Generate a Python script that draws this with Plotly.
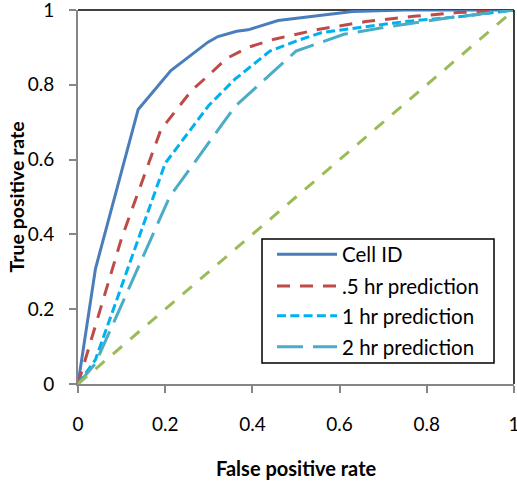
import plotly.graph_objects as go

# ROC curves: false positive rate vs true positive rate
cell_fpr = [0, 0.04, 0.138, 0.213, 0.298, 0.321, 0.364, 0.39, 0.459, 0.63, 0.75, 1.0]
cell_tpr = [0, 0.308, 0.734, 0.838, 0.914, 0.929, 0.943, 0.947, 0.972, 0.996, 1.0, 1.0]

half_fpr = [0, 0.1, 0.19, 0.26, 0.30, 0.34, 0.39, 0.45, 0.55, 0.66, 0.77, 0.87, 1.0]
half_tpr = [0, 0.39, 0.68, 0.784, 0.826, 0.87, 0.9, 0.922, 0.948, 0.969, 0.983, 0.993, 1.0]

one_fpr = [0, 0.04, 0.2, 0.3, 0.36, 0.44, 0.5, 0.56, 0.62, 0.75, 0.89, 1.0]
one_tpr = [0, 0.065, 0.59, 0.745, 0.815, 0.89, 0.917, 0.94, 0.949, 0.969, 0.984, 1.0]

two_fpr = [0, 0.04, 0.21, 0.36, 0.5, 0.61, 0.72, 0.85, 1.0]
two_tpr = [0, 0.055, 0.5, 0.742, 0.89, 0.935, 0.957, 0.979, 1.0]

chance_fpr = [0, 1]
chance_tpr = [0, 1]

series_names = ["Cell ID", ".5 hr prediction", "1 hr prediction", "2 hr prediction"]
series_colors = ["#4A7EBB", "#BE4B48", "#00B0F0", "#4BACC6"]
series_dashes = ["solid", "13px,10px", "9px,4.3px", "26px,10px"]
chance_color = "#9BBB59"

tick_vals = [0, 0.2, 0.4, 0.6, 0.8, 1.0]
tick_text = ["0", "0.2", "0.4", "0.6", "0.8", "1"]

W, H = 517, 481
ML, MR, MT, MB = 78, 3, 10, 97
PW, PH = W - ML - MR, H - MT - MB

FONT = "Lato, 'Open Sans', sans-serif"


def px_x(p):
    return (p - ML) / PW


def px_y(p):
    return (H - MB - p) / PH


fig = go.Figure()
curves = [(cell_fpr, cell_tpr), (half_fpr, half_tpr), (one_fpr, one_tpr), (two_fpr, two_tpr)]
for (fx, ty), name, col, dash in zip(curves, series_names, series_colors, series_dashes):
    fig.add_trace(go.Scatter(x=fx, y=ty, mode="lines", name=name,
                             line=dict(color=col, width=3, dash=dash),
                             showlegend=False, hoverinfo="skip"))
fig.add_trace(go.Scatter(x=chance_fpr, y=chance_tpr, mode="lines",
                         line=dict(color=chance_color, width=3, dash="12px,11px"),
                         showlegend=False, hoverinfo="skip"))

axis_common = dict(
    range=[0, 1], tickvals=tick_vals, ticktext=tick_text,
    ticks="outside", ticklen=7, tickwidth=1.5, tickcolor="#868686",
    showline=True, linecolor="#868686", linewidth=2,
    showgrid=False, zeroline=False,
    tickfont=dict(family=FONT, size=19, color="black"),
    ticklabeloverflow="allow", automargin=False,
    fixedrange=True,
)

shapes = [
    # top and right edges of the plot frame
    dict(type="line", xref="paper", yref="paper", x0=0, x1=1, y0=1, y1=1,
         line=dict(color="black", width=1.5), layer="below"),
    dict(type="line", xref="paper", yref="paper", x0=1, x1=1, y0=0, y1=1,
         line=dict(color="black", width=1.5), layer="above"),
    # legend box
    dict(type="rect", xref="paper", yref="paper",
         x0=px_x(262), x1=px_x(494), y0=px_y(363), y1=px_y(239),
         line=dict(color="black", width=1.5), fillcolor="white", layer="above"),
]
annotations = []
row_y = [254.3, 286, 315.7, 346.7]
for name, col, dash, ry in zip(series_names, series_colors, series_dashes, row_y):
    shapes.append(dict(type="line", xref="paper", yref="paper",
                       x0=px_x(277), x1=px_x(337), y0=px_y(ry), y1=px_y(ry),
                       line=dict(color=col, width=3, dash=dash), layer="above"))
    annotations.append(dict(text=name, xref="paper", yref="paper",
                            x=px_x(340), y=px_y(ry), xanchor="left", yanchor="middle",
                            showarrow=False,
                            font=dict(family=FONT, size=20.5, color="black")))

annotations.append(dict(text="<b>False positive rate</b>", xref="paper", yref="paper",
                        x=0.5, y=px_y(468), xanchor="center", yanchor="middle",
                        showarrow=False, font=dict(family=FONT, size=20, color="black")))
annotations.append(dict(text="<b>True positive rate</b>", xref="paper", yref="paper",
                        x=px_x(15.5), y=0.5, xanchor="center", yanchor="middle",
                        textangle=-90, showarrow=False,
                        font=dict(family=FONT, size=19.5, color="black")))

fig.update_layout(
    width=W, height=H,
    margin=dict(l=ML, r=MR, t=MT, b=MB, autoexpand=False),
    paper_bgcolor="white", plot_bgcolor="white",
    xaxis=dict(**axis_common, ticklabelstandoff=15),
    yaxis=dict(**axis_common, ticklabelstandoff=11),
    shapes=shapes, annotations=annotations,
    showlegend=False,
)

fig.write_html("out.html", config={"displayModeBar": False})
